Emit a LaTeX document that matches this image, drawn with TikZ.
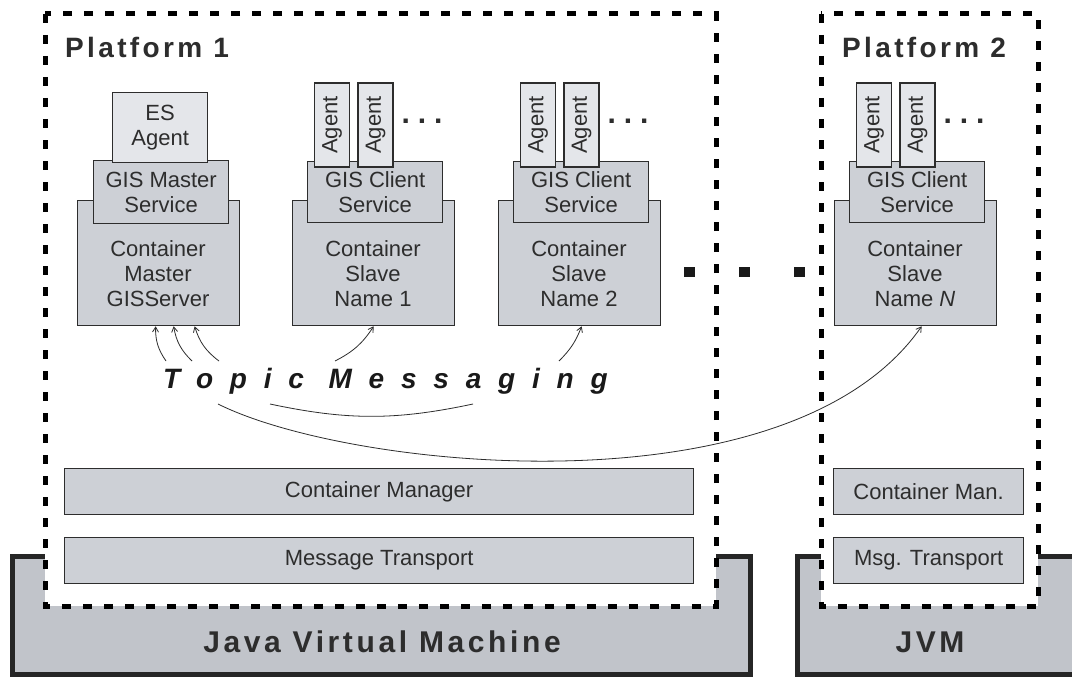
\documentclass[tikz,border=0pt]{standalone}
\usepackage{fontspec}
\setmainfont{Liberation Sans}
\newfontfamily\spacedfont[LetterSpace=12]{Liberation Sans}
\newfontfamily\topicfont[LetterSpace=60]{Liberation Sans}
\usetikzlibrary{arrows.meta}
\definecolor{boxgray}{RGB}{205,208,214}
\definecolor{agentgray}{RGB}{228,230,234}
\definecolor{jvmgray}{RGB}{193,196,202}
\definecolor{ink}{RGB}{45,45,45}
\def\contW{162pt}
\def\contH{125pt}
\def\servW{135pt}
\def\servH{61pt}
\newcommand{\clientstack}[3]{%
% #1 = name, #2 = left edge of container, #3 = container label

\node[contbox, minimum width=\contW, minimum height=\contH, anchor=north west] (#1) at (#2,200) {};
\node[txt] (#1-lbl) at ({#2+81},274) {Container\\Slave\\#3};
\node[contbox, minimum width=\servW, minimum height=\servH, anchor=north west] (#1-srv) at ({#2+15},161) {GIS Client\\Service};

% agents on top of the service
\node[agentbox] (#1-a1) at ({#2+40},125) {Agent};
\node[agentbox] (#1-a2) at ({#2+83.5},125) {Agent};
\node[dots] (#1-more) at ({#2+130},121) {.\hspace{8pt}.\hspace{8pt}.};
}

\begin{document}
\begin{tikzpicture}[
    x=1pt, y=-1pt,
    font=\fontsize{22}{25}\selectfont,
    >={Straight Barb[length=5pt,width=6pt]},
    contbox/.style={draw=ink, fill=boxgray, line width=1.3pt, align=center, text=ink, inner sep=0pt},
    agentbox/.style={contbox, fill=agentgray, rotate=90, minimum width=84pt, minimum height=35pt},
    txt/.style={align=center, text=ink, inner sep=0pt},
    dots/.style={inner sep=0pt, text=ink, font=\fontsize{30}{30}\bfseries},
    plabel/.style={inner sep=0pt, text=ink, font=\spacedfont\bfseries\fontsize{28}{30}\selectfont},
    platform/.style={draw=black, fill=white, line width=5pt, dash pattern=on 9pt off 12pt},
    jvm/.style={draw=black!85, fill=jvmgray, line width=5pt},
    msg/.style={->, line width=0.8pt, draw=ink},
    dotlink/.style={draw=black!90, line width=10pt, dash pattern=on 11pt off 44pt, dash phase=32pt}
]
\useasboundingbox (0,0) rectangle (1072,677);

% virtual machines
\path[jvm] (45,556) -- (12,556) -- (12,674) -- (750,674) -- (750,556) -- (716,556);
\fill[jvmgray] (797,556) rectangle (1080,674);
\draw[jvm, fill=none] (821,556) -- (797,556) -- (797,674) -- (1080,674);
\draw[jvm, fill=none] (1038,556) -- (1080,556);
\node[plabel, font=\spacedfont\bfseries\fontsize{30}{32}\selectfont] (jvm1) at (382,642) {Java Virtual Machine};
\node[plabel, font=\spacedfont\bfseries\fontsize{30}{32}\selectfont] (jvm2) at (930,642) {JVM};

% platforms
\draw[platform] (45,14) rectangle (716,606);
\draw[platform] (821,14) rectangle (1038,606);
\node[plabel, anchor=west] (p1) at (65,47) {Platform 1};
\node[plabel, anchor=west] (p2) at (842,47) {Platform 2};

% master container
\node[contbox, minimum width=\contW, minimum height=\contH, anchor=north west] (master) at (77,200) {};
\node[txt] (master-lbl) at (158,274) {Container\\Master\\GISServer};
\node[contbox, minimum width=\servW, minimum height=63pt, anchor=north west] (master-srv) at (93,160) {GIS Master\\Service};
\node[contbox, fill=agentgray, minimum width=95pt, minimum height=70pt, anchor=north west] (es) at (112,92) {ES\\Agent};

% slave containers
\clientstack{name1}{292}{Name 1}
\clientstack{name2}{498}{Name 2}
\clientstack{nameN}{834}{Name \textit{N}}

% bottom layers
\node[contbox, minimum width=629pt, minimum height=46pt, anchor=north west] (cman) at (64,468) {Container Manager};
\node[contbox, minimum width=629pt, minimum height=46pt, anchor=north west] (mtrans) at (64,537) {Message Transport};
\node[contbox, minimum width=190pt, minimum height=46pt, anchor=north west] (cman2) at (833,468) {Container Man.};
\node[contbox, minimum width=190pt, minimum height=46pt, anchor=north west] (mtrans2) at (833,537) {Msg. Transport};

% topic messaging
\node[inner sep=0pt, text=black!90, anchor=west, font=\topicfont\bfseries\itshape\fontsize{28}{30}\selectfont] (topic) at (163,381) {Topic Messaging};
\coordinate (tm1) at (166,361);
\coordinate (tm2) at (192,361);
\coordinate (tm3) at (219,361);
\coordinate (tm4) at (335,361);
\coordinate (tm5) at (559,361);
\coordinate (arcL) at (218,404);
\coordinate (swL) at (270,404);
\coordinate (swR) at (473,404);

\draw[msg] (tm1) to[bend left=18] ([xshift=-3pt]master.south);
\draw[msg] (tm2) to[bend left=18] ([xshift=15pt]master.south);
\draw[msg] (tm3) to[bend left=18] ([xshift=36pt]master.south);
\draw[msg] (tm4) to[bend right=15] (name1.south);
\draw[msg] (tm5) to[bend right=12] ([xshift=2pt]name2.south);
\draw[msg] (arcL) .. controls (350,470) and (790,515) .. ([xshift=6pt]nameN.south);
\draw[line width=0.8pt, draw=ink] (swL) to[bend right=12] (swR);

% link between platforms
\draw[dotlink] ([yshift=-9pt]name2.east) -- ([yshift=-9pt]nameN.west);
\end{tikzpicture}
\end{document}
